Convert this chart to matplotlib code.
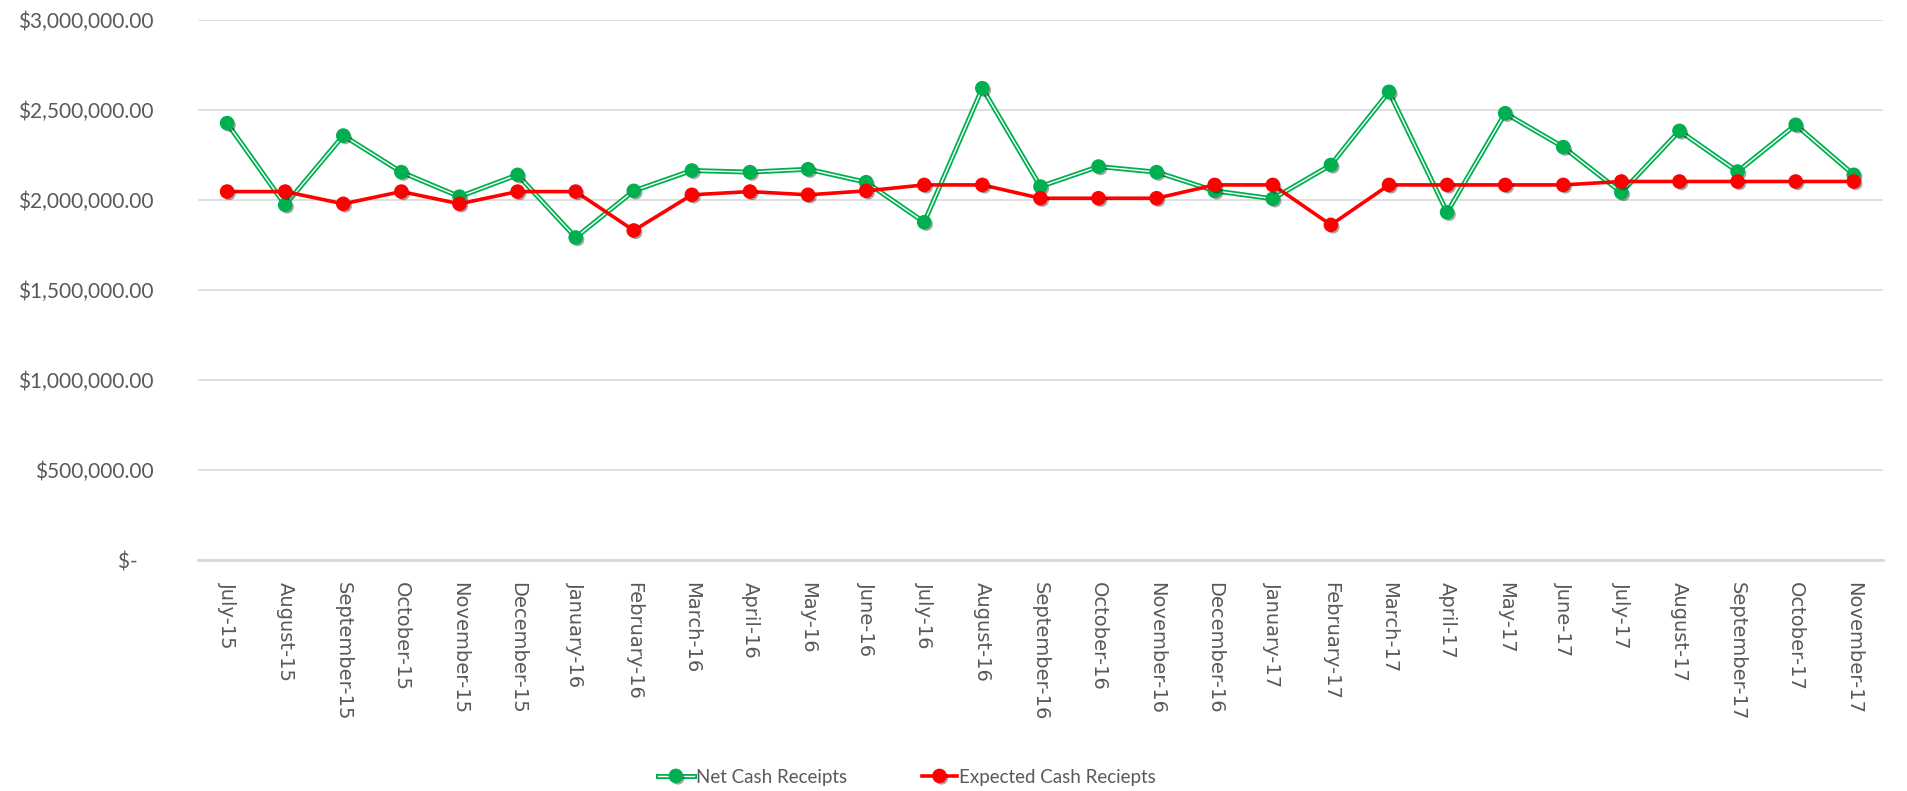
import matplotlib
matplotlib.use("Agg")
from matplotlib import pyplot as plt
from matplotlib import patheffects as pe
from matplotlib.legend_handler import HandlerTuple
import numpy as np

months = ["July-15", "August-15", "September-15", "October-15", "November-15",
          "December-15", "January-16", "February-16", "March-16", "April-16",
          "May-16", "June-16", "July-16", "August-16", "September-16",
          "October-16", "November-16", "December-16", "January-17", "February-17",
          "March-17", "April-17", "May-17", "June-17", "July-17",
          "August-17", "September-17", "October-17", "November-17"]

net_cash = [2426000, 1972000, 2357000, 2154000, 2018000,
            2139000, 1791000, 2050000, 2163000, 2154000,
            2170000, 2098000, 1876000, 2620000, 2074000,
            2185000, 2154000, 2050000, 2006000, 2194000,
            2600000, 1931000, 2481000, 2293000, 2041000,
            2383000, 2157000, 2417000, 2139000]

expected_cash = [2046000, 2046000, 1978000, 2046000, 1978000,
                 2046000, 2046000, 1830000, 2028000, 2046000,
                 2028000, 2050000, 2083000, 2083000, 2009000,
                 2009000, 2009000, 2083000, 2083000, 1861000,
                 2083000, 2083000, 2083000, 2083000, 2102000,
                 2102000, 2102000, 2102000, 2102000]

green = "#00B050"
red = "#FF0000"
grey_text = "#595959"

fig = plt.figure(figsize=(19.08, 7.91), dpi=100)
ax = fig.add_axes([0.1038, 0.292, 0.883, 0.683])

x = np.arange(len(months))
shadow = [pe.SimplePatchShadow(offset=(1.5, -1.5), shadow_rgbFace="k", alpha=0.35), pe.Normal()]

# net cash: double line look (green with white core)
g1, = ax.plot(x, net_cash, color=green, lw=3.6, zorder=3)
g2, = ax.plot(x, net_cash, color="white", lw=1.0, zorder=3.1)
gm, = ax.plot(x, net_cash, ls="none", marker="o", ms=9.5, color=green, zorder=4,
              path_effects=shadow)

r1, = ax.plot(x, expected_cash, color=red, lw=2.6, zorder=5)
rm, = ax.plot(x, expected_cash, ls="none", marker="o", ms=9.5, color=red, zorder=6,
              path_effects=shadow)

ax.set_xlim(-0.5, len(months) - 0.5)
ax.set_ylim(0, 3000000)
ax.set_yticks(np.arange(0, 3000001, 500000))
ax.set_yticklabels(["$-   " if v == 0 else "${:,.2f}".format(v)
                    for v in np.arange(0, 3000001, 500000)],
                   fontsize=15, color=grey_text, family="Lato")
ax.set_xticks(x)
ax.set_xticklabels(months, rotation=270, fontsize=14, color=grey_text,
                   family="DejaVu Sans", va="top", ha="center")

ax.tick_params(axis="both", length=0)
ax.tick_params(axis="y", pad=32)
ax.tick_params(axis="x", pad=16)
ax.grid(axis="y", color="#D9D9D9", lw=1.2)
ax.set_axisbelow(True)
for s in ["top", "right", "left"]:
    ax.spines[s].set_visible(False)
ax.spines["bottom"].set_color("#D9D9D9")
ax.spines["bottom"].set_linewidth(2)

fig.legend([(g1, g2, gm), (r1, rm)], ["Net Cash Receipts", "Expected Cash Reciepts"],
           handler_map={tuple: HandlerTuple(ndivide=1, pad=0)},
           loc="center", bbox_to_anchor=(907 / 1908, 1 - 777 / 791), ncol=2, frameon=False,
           handlelength=1.9, handletextpad=0.1, columnspacing=4.0,
           prop={"family": "Lato", "size": 13.5}, labelcolor=grey_text)

fig.savefig("out.png", dpi=100)
